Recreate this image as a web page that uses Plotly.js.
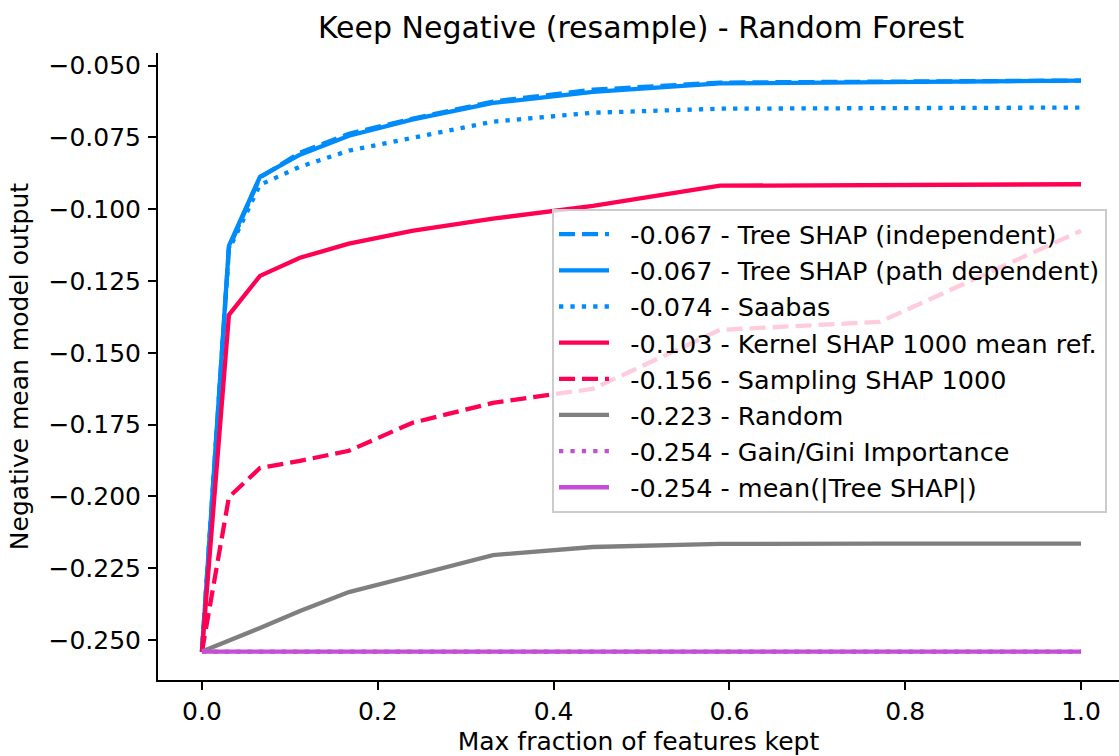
<!DOCTYPE html>
<html>
<head>
<meta charset="utf-8">
<script src="https://cdn.plot.ly/plotly-3.0.1.min.js"></script>
<style>html,body{margin:0;padding:0;background:#fff;}#chart{width:1119px;height:756px;}</style>
</head>
<body>
<div id="chart"></div>
<script>
// Max fraction of features kept
const fractions = [0, 0.0307, 0.066, 0.1115, 0.1672, 0.2389, 0.331, 0.4448, 0.5893, 0.7713, 1.0];

const treeShapIndependent = [-0.254, -0.1134, -0.0890, -0.0803, -0.0737, -0.0685, -0.0625, -0.0584, -0.0559, -0.0556, -0.0552];
const treeShapPath        = [-0.254, -0.1127, -0.0887, -0.0810, -0.0744, -0.0688, -0.0630, -0.0591, -0.0562, -0.0556, -0.0552];
const saabas              = [-0.254, -0.1141, -0.0915, -0.0852, -0.0796, -0.0751, -0.0695, -0.0664, -0.0650, -0.0648, -0.0646];
const kernelShap          = [-0.254, -0.1368, -0.1232, -0.1169, -0.1120, -0.1075, -0.1033, -0.0988, -0.0918, -0.0915, -0.0913];
const samplingShap        = [-0.254, -0.2002, -0.1901, -0.1876, -0.1841, -0.1744, -0.1674, -0.1625, -0.1420, -0.1392, -0.1075];
const randomOrder         = [-0.254, -0.2503, -0.2458, -0.2399, -0.2333, -0.2277, -0.2204, -0.2176, -0.2165, -0.2164, -0.2164];
const gainGini            = [-0.254, -0.254, -0.254, -0.254, -0.254, -0.254, -0.254, -0.254, -0.254, -0.254, -0.254];
const meanAbsTreeShap     = [-0.254, -0.254, -0.254, -0.254, -0.254, -0.254, -0.254, -0.254, -0.254, -0.254, -0.254];

const seriesLabels = [
  "-0.067 - Tree SHAP (independent)",
  "-0.067 - Tree SHAP (path dependent)",
  "-0.074 - Saabas",
  "-0.103 - Kernel SHAP 1000 mean ref.",
  "-0.156 - Sampling SHAP 1000",
  "-0.223 - Random",
  "-0.254 - Gain/Gini Importance",
  "-0.254 - mean(|Tree SHAP|)"
];

const yTickVals = [-0.250, -0.225, -0.200, -0.175, -0.150, -0.125, -0.100, -0.075, -0.050];
const yTickText = ["\u22120.250", "\u22120.225", "\u22120.200", "\u22120.175", "\u22120.150", "\u22120.125", "\u22120.100", "\u22120.075", "\u22120.050"];
const xTickVals = [0.0, 0.2, 0.4, 0.6, 0.8, 1.0];
const xTickText = ["0.0", "0.2", "0.4", "0.6", "0.8", "1.0"];

const blue = "#008bfb", red = "#ff0052", gray = "#7f7f7f", purple = "#c54ed6";
const W = 4.3;
const DASH = "16px,7px", DOT = "4.3px,7.1px";

const ys = [treeShapIndependent, treeShapPath, saabas, kernelShap, samplingShap, randomOrder, gainGini, meanAbsTreeShap];
const styles = [
  {color: blue, dash: DASH},
  {color: blue, dash: "solid"},
  {color: blue, dash: DOT},
  {color: red, dash: "solid"},
  {color: red, dash: DASH},
  {color: gray, dash: "solid"},
  {color: purple, dash: DOT},
  {color: purple, dash: "solid"}
];

const traces = ys.map((y, i) => ({
  x: fractions, y: y, type: "scatter", mode: "lines",
  name: "\u00a0\u00a0" + seriesLabels[i], legendgroup: "g" + i,
  line: {color: styles[i].color, width: W, dash: styles[i].dash}
}));

const F = "DejaVu Sans, Liberation Sans, sans-serif";
const layout = {
  width: 1119, height: 756,
  paper_bgcolor: "#fff", plot_bgcolor: "#fff",
  margin: {l: 158, r: 0, t: 53, b: 76, pad: 0},
  font: {family: F, color: "#000", size: 25},
  title: {text: "Keep Negative (resample) - Random Forest", font: {family: F, size: 30, color: "#000"}, x: 0.5728, xanchor: "center", y: 0.963, yanchor: "middle"},
  xaxis: {
    range: [-0.05, 1.0432], tickvals: xTickVals, ticktext: xTickText,
    showgrid: false, zeroline: false, showline: true, linecolor: "#000", linewidth: 2,
    ticks: "outside", ticklen: 8, tickwidth: 2, tickcolor: "#000",
    tickfont: {family: F, size: 25, color: "#000"},
    title: {text: "Max fraction of features kept", font: {family: F, size: 25, color: "#000"}, standoff: 8}
  },
  yaxis: {
    range: [-0.2639, -0.0456], tickvals: yTickVals, ticktext: yTickText,
    showgrid: false, zeroline: false, showline: true, linecolor: "#000", linewidth: 2,
    ticks: "outside", ticklen: 8, tickwidth: 2, tickcolor: "#000", ticklabelstandoff: 2,
    tickfont: {family: F, size: 25, color: "#000"},
    title: {text: "Negative mean model output", font: {family: F, size: 25, color: "#000"}, standoff: 13}
  },
  showlegend: true,
  legend: {
    x: 0.41, y: 0.751, xanchor: "left", yanchor: "top",
    bgcolor: "rgba(255,255,255,0.8)", bordercolor: "#cccccc", borderwidth: 2,
    font: {family: F, size: 25.5, color: "#000"},
    tracegroupgap: 3.5, traceorder: "normal", itemwidth: 50
  }
};

Plotly.newPlot("chart", traces, layout, {displayModeBar: false, staticPlot: true});
</script>
</body>
</html>
